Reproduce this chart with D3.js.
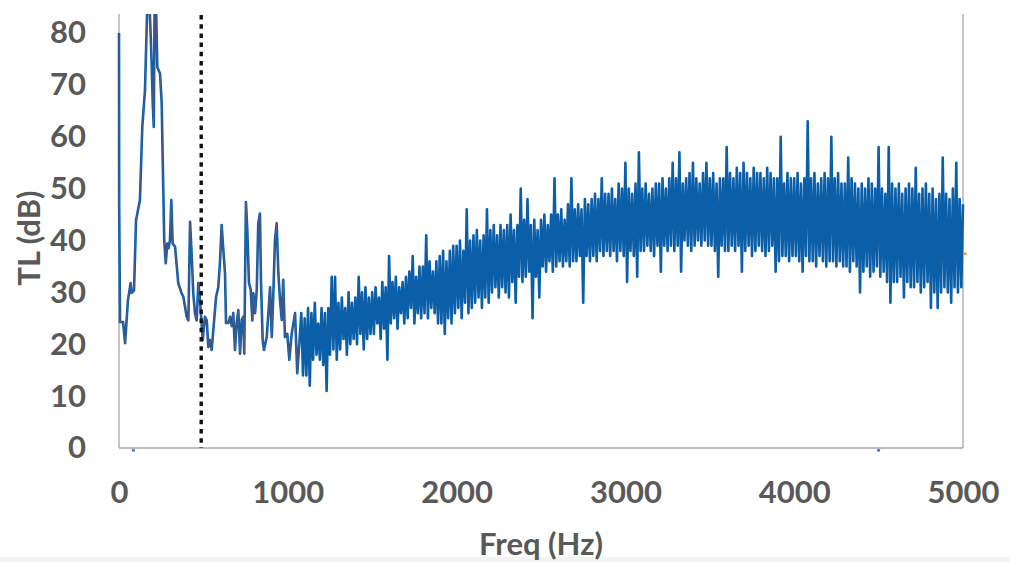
<!DOCTYPE html>
<html><head><meta charset="utf-8">
<script src="https://cdn.jsdelivr.net/npm/d3@7"></script>
<style>
body{margin:0;background:#fff;}
svg text{font-family:Lato,'Open Sans',sans-serif;font-weight:700;fill:#595959;}
</style>
</head><body>
<svg id="chart" width="1010" height="562"></svg>
<script>
// ---------- data ----------
const xTickValues = [0, 1000, 2000, 3000, 4000, 5000];
const yTickValues = [0, 10, 20, 30, 40, 50, 60, 70, 80];

// low-frequency part of the TL curve (irregular frequencies, Hz)
const lowFreq = [0,1,6,24,36,53,69,75,89,101,124,138,154,168,180,188,194,200,206,211,219,227,243,253,259,268,277,286,294,302,310,318,332,351,361,371,381,401,411,421,432,440,450,460,470,480,496,509,520,529,539,549,
 575,588,598,608,618,628,634,648,658,668,677,687,697,707,717,727,736,742,752,760,770,780,790,796,806,816,825,835,841,851,859,875,885,895,905,914,924,934,944,954,964,973,983,997,1009,1023,1043,1056,1072];
const lowTL = [80,47,24.3,24.3,20.2,28.5,31.8,29.9,30.4,43.9,47.8,61.9,69,86,86,79.3,73.5,66.4,61.9,86,86,73.4,72.2,66.4,55.5,40.1,35.6,39.4,38.5,40.1,47.8,39.4,38.8,31.8,30.8,29.8,29.2,25.3,24.6,43.6,36.2,29.8,26,24.6,31.8,28.5,20.8,25.3,24.6,19.5,20.8,18.9,
 29.1,31,35.6,43,38.2,33.7,24.1,24.1,25.3,23.5,26,18.9,24,26.6,18.2,24.7,25.3,18.2,47.4,42,31.8,30.6,24.6,29.8,26,30.4,43.3,45.2,32.4,20.8,18.9,21.4,26,31,21.4,29.5,40.1,43.3,33.7,28.5,24.7,32.4,21.4,22,17,22,26,14.4,22];

// dense part: regularly sampled from 1080 Hz every 10 Hz
const denseStartHz = 1080;
const denseStepHz = 10;
const denseTL = (
 "26 14 " +
 "25 14 27 12 26 17 28 18 24 17 " +
 "27 16 26 11 27 18 33 19 33 17 " +
 "28 19 29 21 27 18 30 20 28 21 " +
 "29 20 33 22 30 19 31 21 29 22 " +
 "30 22 31 24 29 21 32 23 31 17 " +
 "37 24 32 25 33 23 31 26 32 24 " +
 "33 25 34 27 37 24 33 26 35 25 " +
 "35 26 41 25 36 27 34 26 36 24 " +
 "37 24 38 22 36 25 38 24 39 26 " +
 "39 27 40 25 38 28 46 26 40 27 " +
 "41 28 42 29 40 27 41 29 46 28 " +
 "42 30 43 31 41 29 43 31 42 30 " +
 "43 29 45 32 42 28 43 33 50 32 " +
 "44 33 48 34 43 25 44 33 42 29 " +
 "44 35 45 34 43 36 45 34 52 35 " +
 "45 36 46 35 44 36 47 35 52 36 " +
 "46 36 47 37 46 28 48 37 47 36 " +
 "48 37 49 36 48 38 52 37 49 38 " +
 "49 37 50 38 48 36 51 38 50 37 " +
 "55 32 50 38 49 37 51 33 57 38 " +
 "50 38 51 39 49 38 50 37 51 39 " +
 "51 34 52 39 50 38 52 39 55 38 " +
 "52 39 57 34 51 40 52 39 53 38 " +
 "55 39 52 40 51 39 53 40 55 39 " +
 "52 39 53 38 51 33 52 39 52 38 " +
 "58 38 53 39 52 38 54 39 53 34 " +
 "55 38 53 39 52 37 54 38 53 39 " +
 "53 38 52 37 54 38 53 39 52 34 " +
 "52 36 60 37 51 37 53 36 52 37 " +
 "52 37 53 36 51 34 52 37 63 36 " +
 "52 36 53 35 51 37 52 36 53 35 " +
 "52 36 60 36 52 35 53 36 51 35 " +
 "51 35 56 34 52 36 51 35 50 30 " +
 "51 34 50 35 52 33 51 34 50 35 " +
 "58 33 50 34 49 32 58 28 51 32 " +
 "50 32 51 33 49 29 50 32 51 31 " +
 "50 31 54 32 49 30 50 31 51 32 " +
 "49 27 50 30 48 27 49 30 56 31 " +
 "49 30 48 28 50 31 55 30 48 31 " +
 "47").trim().split(/\s+/).map(Number);

// dotted vertical marker (Hz)
const markerFreq = [487];

// tiny stray marks visible in the picture
const strayFreq = [85, 4500, 5012];
const strayTL = [-0.4, -0.4, 37.5];
const strayColor = ["#2f7ed8", "#2f7ed8", "#f28e2b"];

// ---------- drawing ----------
const W = 1010, H = 562;
const plot = {left: 119, right: 963, top: 14, bottom: 448};
const svg = d3.select("#chart");

const x = d3.scaleLinear().domain([0, 5000]).range([plot.left, plot.right]);
const y = d3.scaleLinear().domain([0, 83.66]).range([plot.bottom, plot.top]);

svg.append("rect").attr("x",0).attr("y",557).attr("width",W).attr("height",5).attr("fill","#f3f3f3");

svg.append("defs").append("clipPath").attr("id","clip")
  .append("rect").attr("x",plot.left-2).attr("y",plot.top)
  .attr("width",plot.right-plot.left+4).attr("height",plot.bottom-plot.top);

// frame (drawn first, the curve sits on top of it)
const frame = svg.append("g").attr("stroke","#a6a6a6").attr("stroke-width",1.3);
frame.append("line").attr("x1",plot.left).attr("x2",plot.left).attr("y1",plot.top).attr("y2",plot.bottom);
frame.append("line").attr("x1",plot.left).attr("x2",plot.right).attr("y1",plot.bottom).attr("y2",plot.bottom);
frame.append("line").attr("x1",plot.right).attr("x2",plot.right).attr("y1",plot.top).attr("y2",plot.bottom);

// build series
const lowSeries = lowFreq.map((f,i)=>({f, v: lowTL[i]}));
const denseSeries = denseTL.map((v,i)=>({f: denseStartHz + i*denseStepHz, v}));
const tlSeries = lowSeries.concat(denseSeries);

const line = d3.line().x(d=>x(d.f)).y(d=>y(d.v));

const g = svg.append("g").attr("clip-path","url(#clip)");
g.append("path").datum(tlSeries).attr("d", line)
  .attr("fill","none").attr("stroke","#0b5ea8").attr("stroke-width",2.6)
  .attr("stroke-linejoin","round");
// thin reddish companion series visible through the low-frequency part
g.append("path").datum(lowSeries).attr("d", line)
  .attr("fill","none").attr("stroke","#c0504d").attr("stroke-width",0.8)
  .attr("stroke-opacity",0.45);

// dotted marker line
svg.selectAll("line.marker").data(markerFreq).enter().append("line").attr("class","marker")
  .attr("x1",d=>x(d)).attr("x2",d=>x(d)).attr("y1",plot.top+1).attr("y2",plot.bottom)
  .attr("stroke","#111").attr("stroke-width",3.4).attr("stroke-dasharray","4.5,4.7");

// stray marks
svg.selectAll("rect.stray").data(strayFreq).enter().append("rect").attr("class","stray")
  .attr("x",(d)=>x(d)-1.5).attr("y",(d,i)=>y(strayTL[i])-1).attr("width",3).attr("height",2.5)
  .attr("fill",(d,i)=>strayColor[i]);

// axes
const fs = 31;
const xAxis = svg.append("g").attr("transform",`translate(0,${plot.bottom})`)
  .call(d3.axisBottom(x).tickValues(xTickValues).tickSize(0).tickPadding(33).tickFormat(d3.format("d")));
xAxis.select(".domain").remove();
xAxis.selectAll("text").style("font-size",fs+"px").attr("fill","#595959");

const yAxis = svg.append("g").attr("transform",`translate(${plot.left},0)`)
  .call(d3.axisLeft(y).tickValues(yTickValues).tickSize(0).tickPadding(33).tickFormat(d3.format("d")));
yAxis.select(".domain").remove();
yAxis.selectAll("text").style("font-size",fs+"px").attr("fill","#595959");

svg.append("text").attr("x",541).attr("y",543).attr("text-anchor","middle")
  .attr("dominant-baseline","central").style("font-size",fs+"px").text("Freq (Hz)");
svg.append("text").attr("transform","translate(28,238) rotate(-90)").attr("text-anchor","middle")
  .attr("dominant-baseline","central").style("font-size",fs+"px").text("TL (dB)");
</script>
</body></html>
